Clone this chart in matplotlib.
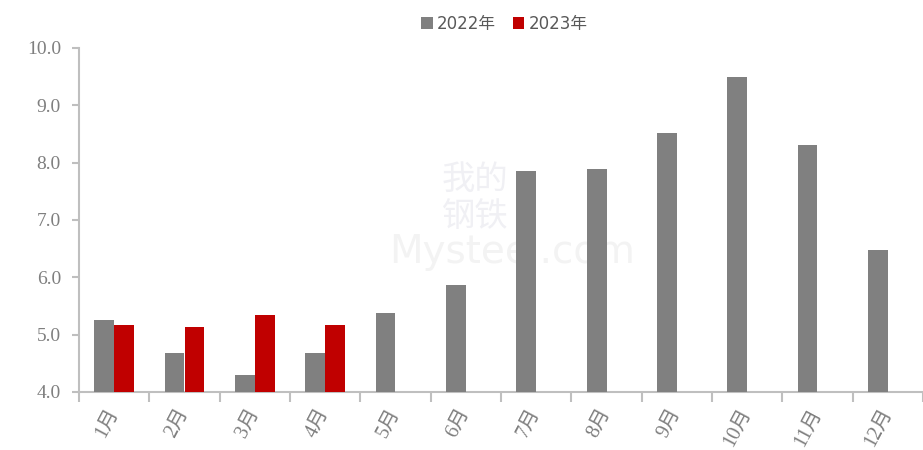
import numpy as np
import matplotlib.pyplot as plt

plt.rcParams['font.family'] = ['Liberation Serif', 'Noto Sans CJK SC']

months = ['1月', '2月', '3月', '4月', '5月', '6月', '7月', '8月', '9月', '10月', '11月', '12月']
y2022 = [5.26, 4.68, 4.30, 4.68, 5.38, 5.87, 7.86, 7.89, 8.52, 9.50, 8.31, 6.48]
y2023 = [5.17, 5.14, 5.35, 5.17]

grey = '#808080'
red = '#c00000'
axis_col = '#bfbfbf'
txt_col = '#7f7f7f'

fig = plt.figure(figsize=(9.23, 4.5), dpi=100)
ax = fig.add_axes([79 / 923, 1 - 392 / 450, 1 - 79 / 923, (392 - 48) / 450])

x = np.arange(len(months))
w = 0.28
ax.bar(x - w / 2, y2022, width=w, color=grey, label='2022年', zorder=3)
ax.bar(x[:len(y2023)] + w / 2, y2023, width=w, color=red, label='2023年', zorder=3)

ax.set_ylim(4, 10)
ax.set_xlim(-0.5, 11.39)
ticks = np.arange(4, 10.01, 1)
ax.set_yticks(ticks)
ax.set_yticklabels(['%.1f' % v for v in ticks], fontsize=14, color=txt_col)

ax.set_xticks(np.arange(-0.5, 12, 1))
ax.set_xticklabels([])
ax.tick_params(axis='x', which='major', length=7, width=1.5, color=axis_col)
ax.tick_params(axis='y', length=5, width=1.5, color=axis_col, pad=8)
ax.set_xticks(x, minor=True)
ax.set_xticklabels(months, minor=True, rotation=62, ha='right', va='center',
                   rotation_mode='anchor', fontsize=14.5, color=txt_col)
ax.tick_params(axis='x', which='minor', length=0, pad=13)

for s in ['top', 'right']:
    ax.spines[s].set_visible(False)
for s in ['left', 'bottom']:
    ax.spines[s].set_color(axis_col)
    ax.spines[s].set_linewidth(1.5)

# watermark
ax.text(0.515, 0.56, '我的\n钢铁', fontsize=24, color='#f0f0f4', ha='center', va='center',
        family=['Noto Sans CJK SC'], transform=fig.transFigure, zorder=1, linespacing=1.1)
ax.text(0.555, 0.44, 'Mysteel.com', fontsize=28, color='#f3f3f3', ha='center', va='center',
        family=['DejaVu Sans'], transform=fig.transFigure, zorder=1)

leg = fig.legend(loc='upper left', bbox_to_anchor=(406 / 923, 1.0), ncol=2, frameon=False,
                 prop={'family': ['DejaVu Sans', 'Noto Sans CJK SC'], 'size': 12},
                 handlelength=0.7, handleheight=0.7, handletextpad=0.25, columnspacing=1.0)
for t in leg.get_texts():
    t.set_color('#595959')

fig.savefig('out.png', dpi=100)
